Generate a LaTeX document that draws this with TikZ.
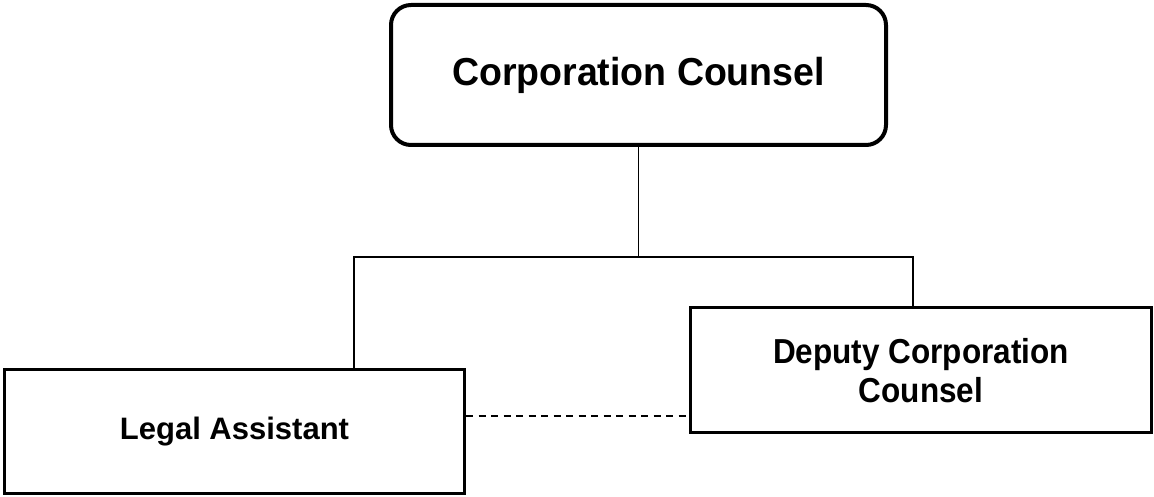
\documentclass[tikz,border=0pt]{standalone}
\usepackage{fontspec}
\setmainfont{Liberation Sans}
\begin{document}
\begin{tikzpicture}[x=1pt,y=-1pt,
  topbox/.style={draw=black, line width=4pt, rounded corners=20pt, minimum width=495pt, minimum height=140pt, inner sep=0pt, font=\fontsize{37.5}{45}\selectfont\bfseries, align=center},
  plainbox/.style={draw=black, line width=3pt, inner sep=0pt, align=center},
  conn/.style={draw=black, line width=1.8pt},
  dashconn/.style={draw=black, line width=1.8pt, dash pattern=on 7pt off 5.5pt}]
\useasboundingbox (0,0) rectangle (1154,497);
\node[topbox] (cc) at (638.5,75) {\scalebox{1}[1.04]{Corporation Counsel}};
\node[plainbox, minimum width=460pt, minimum height=124pt, font=\fontsize{31}{37}\selectfont\bfseries] (la) at (234.5,431.5) {Legal Assistant};
\node[plainbox, minimum width=461pt, minimum height=125pt, font=\fontsize{31.5}{36}\selectfont\bfseries] (dc) at (921,370) {\raisebox{-5pt}[\height][\depth]{\scalebox{1}[1.1]{\begin{tabular}{@{}c@{}}Deputy Corporation\\Counsel\end{tabular}}}};
\coordinate (j) at (638.5,257);
\draw[conn] (cc.south) -- (j);
\draw[conn] (la.north -| 354,0) |- (j) -| (dc.north -| 913,0);
\draw[dashconn] (la.east |- 0,416) -- (dc.west |- 0,416);
\end{tikzpicture}
\end{document}
